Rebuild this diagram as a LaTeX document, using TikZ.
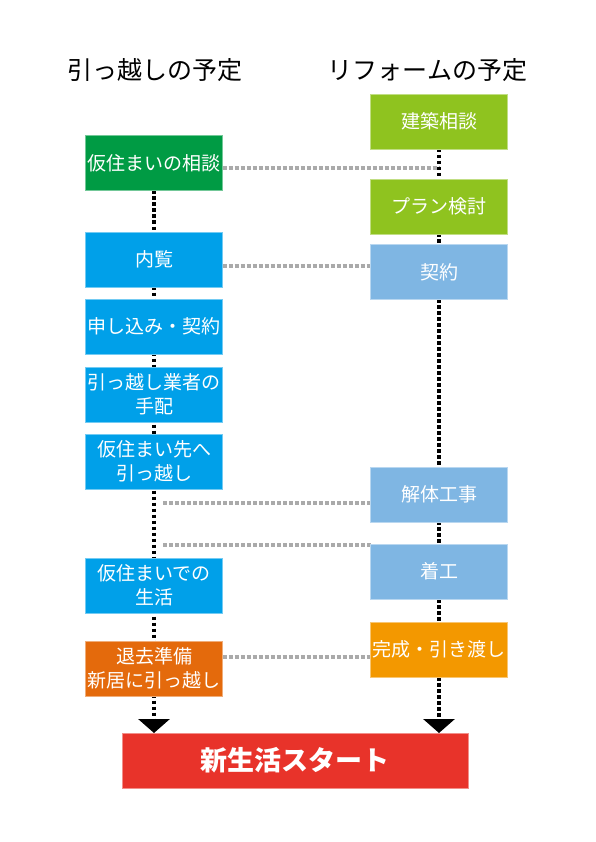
\documentclass[tikz,border=0pt]{standalone}
\usepackage{fontspec}
\setmainfont{Noto Sans CJK JP}
\usetikzlibrary{arrows.meta,backgrounds}
\definecolor{kgreen}{RGB}{0,155,68}
\definecolor{lgreen}{RGB}{143,195,31}
\definecolor{kblue}{RGB}{0,160,233}
\definecolor{lblue}{RGB}{127,182,227}
\definecolor{dorange}{RGB}{228,106,12}
\definecolor{korange}{RGB}{243,152,0}
\definecolor{kred}{RGB}{232,51,42}
\definecolor{dotgray}{RGB}{170,170,170}
\tikzset{
  box/.style={fill=#1, draw=#1!55!white, line width=0.8pt, minimum width=137pt,
    minimum height=55pt, inner sep=0pt, outer sep=0pt, text=white,
    font=\fontsize{19}{24}\selectfont, align=center},
  title/.style={font=\fontsize{25}{29}\selectfont},
  vline/.style={line width=4.5pt, dash pattern=on 3.5pt off 2.5pt},
  hline/.style={dotgray, line width=4.5pt, dash pattern=on 4pt off 2pt},
  tip/.style={-{Triangle[width=31pt,length=14pt]}}
}
\begin{document}
\begin{tikzpicture}[x=1pt,y=-1pt]
  \useasboundingbox (0,0) rectangle (595,842);
  \node[title] (lefttitle)  at (155,70)   {引っ越しの予定};
  \node[title] (righttitle) at (427.5,70) {リフォームの予定};

  \node[box=kgreen]  (kari)       at (154,163)   {仮住まいの相談};
  \node[box=kblue]   (naiken)     at (154,259.5) {内覧};
  \node[box=kblue]   (moushikomi) at (154,326.5) {申し込み・契約};
  \node[box=kblue]   (gyousha)    at (154,394.5) {引っ越し業者の\\手配};
  \node[box=kblue]   (hikkoshi)   at (154,461.5) {仮住まい先へ\\引っ越し};
  \node[box=kblue]   (seikatsu)   at (154,585.5) {仮住まいでの\\生活};
  \node[box=dorange] (taikyo)     at (154,668.5) {退去準備\\新居に引っ越し};

  \node[box=lgreen]  (kenchiku) at (439,121.5) {建築相談};
  \node[box=lgreen]  (plan)     at (439,206.5) {プラン検討};
  \node[box=lblue]   (keiyaku)  at (439,272)   {契約};
  \node[box=lblue]   (kaitai)   at (439,494.5) {解体工事};
  \node[box=lblue]   (chakko)   at (439,571.5) {着工};
  \node[box=korange] (kansei)   at (439,649.5) {完成・引き渡し};

  \node[box=kred, minimum width=346pt, font=\fontsize{27}{30}\selectfont\bfseries]
    (start) at (295,760.5) {新生活スタート};

  \begin{scope}[on background layer]
    \draw[hline] ([yshift=-5pt]kari.east) -- ([yshift=-5pt]kari.east -| kenchiku.south);
    \draw[hline] ([yshift=-6.5pt]naiken.east) -- ([yshift=-6.5pt]naiken.east -| keiyaku.west);
    \draw[hline, shorten >=8pt] ([yshift=-8.5pt]kaitai.west) -- ([yshift=-8.5pt]kaitai.west -| hikkoshi.south);
    \draw[hline, shorten >=8pt] ([yshift=-1pt]chakko.north west) -- ([yshift=-1pt]chakko.north west -| seikatsu.north);
    \draw[hline] ([yshift=11.5pt]taikyo.east) -- ([yshift=11.5pt]taikyo.east -| kansei.west);
    \draw[vline, tip] (kari.south) -- (kari.south |- start.north);
    \draw[vline, tip] (kenchiku.south) -- (kenchiku.south |- start.north);
  \end{scope}
\end{tikzpicture}
\end{document}
